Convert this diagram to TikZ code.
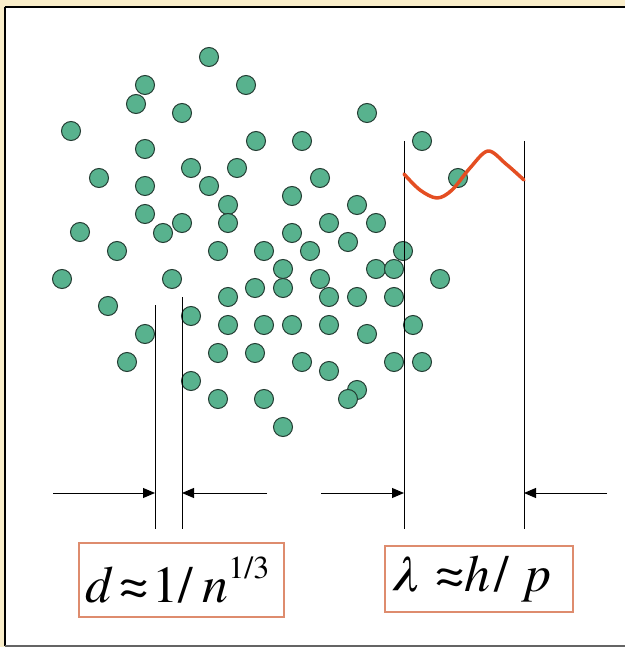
\documentclass[tikz,border=0pt]{standalone}
\usepackage{fontspec}
\newfontfamily\tnr{TeX Gyre Termes}
\usetikzlibrary{arrows.meta}
\definecolor{cream}{RGB}{250,238,202}
\definecolor{dotfill}{RGB}{88,178,142}
\definecolor{dotline}{RGB}{35,60,50}
\definecolor{wavecol}{RGB}{228,78,34}
\definecolor{boxcol}{RGB}{222,140,110}
\definecolor{bottomgray}{RGB}{100,100,100}
\tikzset{
  dot/.style={circle, fill=dotfill, draw=dotline, line width=1pt, minimum size=19pt, inner sep=0pt},
  guide/.style={draw=black, line width=1pt},
  dimarrow/.style={draw=black, line width=1pt, -{Triangle[length=12pt,width=10pt]}},
  formulabox/.style={draw=boxcol, line width=1.4pt, inner sep=0pt, font=\tnr\fontsize{52}{54}\selectfont},
}
\begin{document}
\begin{tikzpicture}[x=1pt,y=-1pt]
\useasboundingbox (0,0) rectangle (625,647);
% background and frame
\fill[cream] (0,0) rectangle (625,647);
\fill[white] (5,8.5) rectangle (625,645);
\draw[black, line width=2pt] (4.5,7.5) -- (625,7.5);
\draw[black, line width=2pt] (4.5,7.5) -- (4.5,646);
\draw[bottomgray, line width=2pt] (4.5,646) -- (625,646);
% particles
\foreach \x/\y [count=\i] in {209/57,145/85,246/85,136/104,182/113,367/113,71/131,256/141,302/141,422/141,145/149,191/168,237/168,99/178,320/178,458/178,145/186,209/186,292/196,228/205,357/205,145/214,182/223,228/223,329/223,376/223,80/232,163/233,292/233,348/242,117/251,218/251,264/251,310/251,403/251,283/269,376/269,394/269,62/279,172/279,255/288,283/288,320/279,440/279,108/306,228/297,329/297,357/297,394/297,191/316,145/334,228/325,264/325,292/325,329/325,367/334,413/325,127/362,218/353,255/353,302/362,394/362,422/362,329/371,191/381,218/399,264/399,357/390,348/399,283/427}
  \node[dot] (p\i) at (\x,\y) {};
% guide lines
\coordinate (dLtop) at (155,305);
\coordinate (dLbot) at (155,529);
\coordinate (dRtop) at (182,297);
\coordinate (dRbot) at (182,529);
\coordinate (lLtop) at (404,141);
\coordinate (lLbot) at (404,529);
\coordinate (lRtop) at (524,141);
\coordinate (lRbot) at (524,529);
\draw[guide] (dLtop) -- (dLbot);
\draw[guide] (dRtop) -- (dRbot);
\draw[guide] (lLtop) -- (lLbot);
\draw[guide] (lRtop) -- (lRbot);
% dimension arrows
\coordinate (a1s) at (53,493);   \coordinate (a1e) at (155,493);
\coordinate (a2s) at (267,493);  \coordinate (a2e) at (182,493);
\coordinate (a3s) at (321,493);  \coordinate (a3e) at (404,493);
\coordinate (a4s) at (607,493);  \coordinate (a4e) at (524,493);
\draw[dimarrow] (a1s) -- (a1e);
\draw[dimarrow] (a2s) -- (a2e);
\draw[dimarrow] (a3s) -- (a3e);
\draw[dimarrow] (a4s) -- (a4e);
% wave
\draw[wavecol, line width=3.5pt, line cap=round, line join=round]
  plot[smooth, tension=0.55] coordinates {(404,174) (420,190) (437,198) (452,190) (470,168) (488,151) (506,164) (524,180)};
% formula boxes
\node[formulabox, minimum width=205pt, minimum height=74pt] (dbox) at (181.5,580)
  {\hspace*{-8pt}\itshape d\hspace{8pt}\upshape≈\hspace{4pt}1/\hspace{9pt}\itshape n\upshape\raisebox{24pt}{\fontsize{32}{32}\selectfont 1/3}};
\node[formulabox, minimum width=188pt, minimum height=66pt] (lbox) at (479,579)
  {\hspace*{-16pt}\itshape λ\hspace{17pt}\upshape≈\itshape h\hspace{4pt}\upshape/\hspace{17pt}\itshape p};
\end{tikzpicture}
\end{document}
